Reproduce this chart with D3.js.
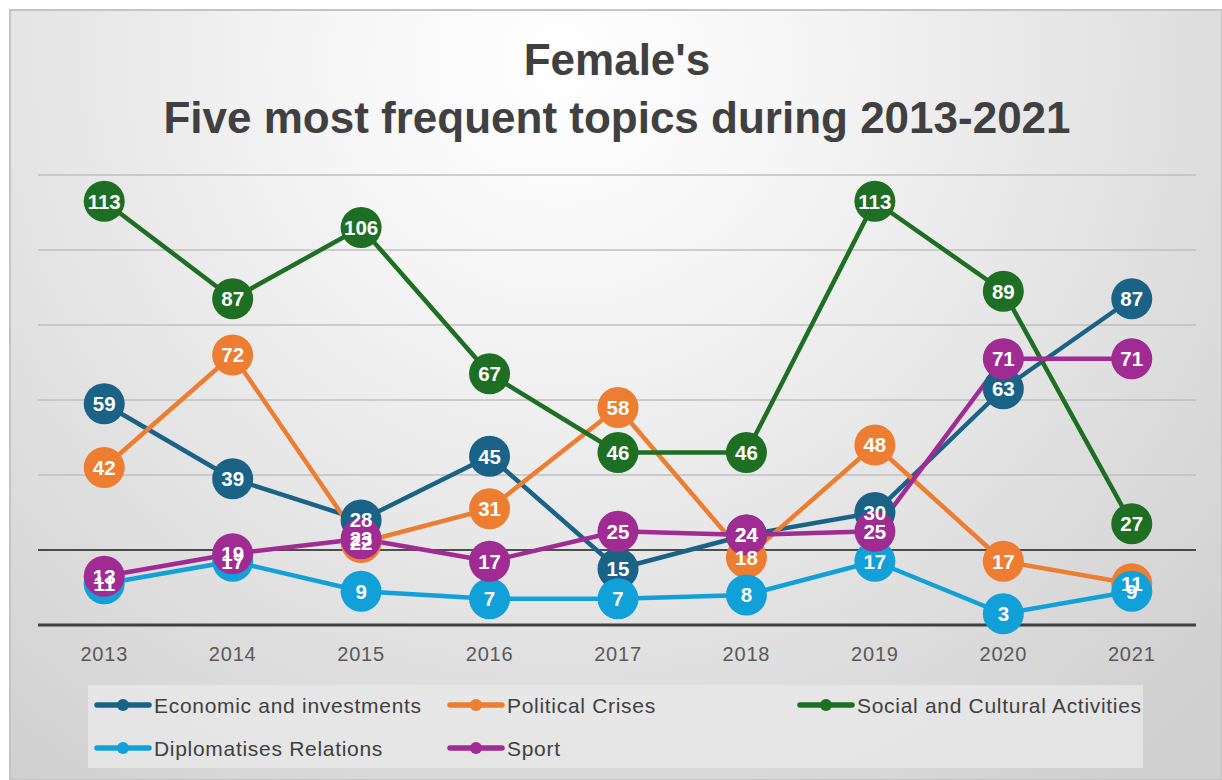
<!DOCTYPE html>
<html><head><meta charset="utf-8">
<script src="https://cdn.jsdelivr.net/npm/d3@7"></script>
<style>html,body{margin:0;padding:0;background:#fff;}svg{display:block;}</style>
</head><body>
<script>
const years = ["2013","2014","2015","2016","2017","2018","2019","2020","2021"];
const seriesNames = ["Economic and investments","Political Crises","Social and Cultural Activities","Diplomatises Relations","Sport"];
const seriesColors = ["#1a6286","#ed7d31","#1e6e23","#12a0d8","#a02b93"];
const economic = [59,39,28,45,15,24,30,63,87];
const political = [42,72,22,31,58,18,48,17,11];
const social = [113,87,106,67,46,46,113,89,27];
const diplomatic = [11,17,9,7,7,8,17,3,9];
const sport = [13,19,23,17,25,24,25,71,71];
const yTicks = [0,20,40,60,80,100,120];
const titleLines = ["Female's","Five most frequent topics during 2013-2021"];

const seriesValues = [economic, political, social, diplomatic, sport];
const W = 1222, H = 780;
const svg = d3.select("body").append("svg").attr("width", W).attr("height", H);
const defs = svg.append("defs");
const rg = defs.append("radialGradient").attr("id","bg").attr("gradientUnits","userSpaceOnUse")
  .attr("cx",560).attr("cy",60).attr("r",900);
rg.append("stop").attr("offset","0").attr("stop-color","#ffffff");
rg.append("stop").attr("offset","0.25").attr("stop-color","#f6f6f6");
rg.append("stop").attr("offset","1").attr("stop-color","#d0d0d0");

svg.append("rect").attr("x",10).attr("y",10).attr("width",W-10).attr("height",H-10)
  .attr("fill","url(#bg)").attr("stroke","#c4c4c4").attr("stroke-width",2);

const font = "'Liberation Sans', Arial, sans-serif";
svg.append("text").attr("x",617).attr("y",75).attr("text-anchor","middle")
  .attr("font-family",font).attr("font-weight","bold").attr("font-size",44).attr("fill","#404040").text(titleLines[0]);
svg.append("text").attr("x",617).attr("y",133).attr("text-anchor","middle")
  .attr("font-family",font).attr("font-weight","bold").attr("font-size",44).attr("fill","#404040").text(titleLines[1]);

const x = d3.scaleBand().domain(years).range([40,1196]);
const y = d3.scaleLinear().domain([0,120]).range([625,175]);

const grid = svg.append("g");
grid.selectAll("line").data(yTicks.filter(d=>d>0)).join("line")
  .attr("x1",38).attr("x2",1196).attr("y1",d=>y(d)).attr("y2",d=>y(d))
  .attr("stroke",d=>d===20?"#1a1a1a":"#bfbfbf").attr("stroke-width",1.6);

const xAxis = svg.append("g").attr("transform",`translate(0,${y(0)})`).call(d3.axisBottom(x).tickSize(0).tickPadding(22));
xAxis.select(".domain").attr("d","M38,0H1196").attr("stroke","#404040").attr("stroke-width",3);
xAxis.selectAll("text").attr("font-family",font).attr("font-size",20).attr("letter-spacing",0.8).attr("fill","#595959");

const cx = d => x(d) + x.bandwidth()/2;
const line = d3.line().x((v,i)=>cx(years[i])).y(v=>y(v));

seriesValues.forEach((vals,s)=>{
  svg.append("path").datum(vals).attr("d",line).attr("fill","none")
    .attr("stroke",seriesColors[s]).attr("stroke-width",4.5).attr("stroke-linejoin","round");
});
seriesValues.forEach((vals,s)=>{
  svg.append("g").selectAll("circle").data(vals).join("circle")
    .attr("cx",(v,i)=>cx(years[i])).attr("cy",v=>y(v)).attr("r",20.5).attr("fill",seriesColors[s]);
});
seriesValues.forEach((vals,s)=>{
  svg.append("g").selectAll("text").data(vals).join("text")
    .attr("x",(v,i)=>cx(years[i])).attr("y",v=>y(v)).attr("dy","0.36em").attr("text-anchor","middle")
    .attr("font-family",font).attr("font-weight","bold").attr("font-size",20.5).attr("fill","#ffffff").text(v=>v);
});

// legend
svg.append("rect").attr("x",88).attr("y",685).attr("width",1055).attr("height",83).attr("fill","#e8e8e8").attr("opacity",0.8);
const legendPos = [[95,705],[448,705],[798,705],[95,748],[448,748]];
seriesNames.forEach((n,s)=>{
  const [lx,ly] = legendPos[s];
  const g = svg.append("g");
  g.append("line").attr("x1",lx+2).attr("x2",lx+54).attr("y1",ly).attr("y2",ly)
    .attr("stroke",seriesColors[s]).attr("stroke-width",5.5).attr("stroke-linecap","round");
  g.append("circle").attr("cx",lx+28).attr("cy",ly).attr("r",6).attr("fill",seriesColors[s]);
  g.append("text").attr("x",lx+59).attr("y",ly).attr("dy","0.36em")
    .attr("font-family",font).attr("font-size",21).attr("letter-spacing",0.7).attr("fill","#404040").text(n);
});
</script>
</body></html>
